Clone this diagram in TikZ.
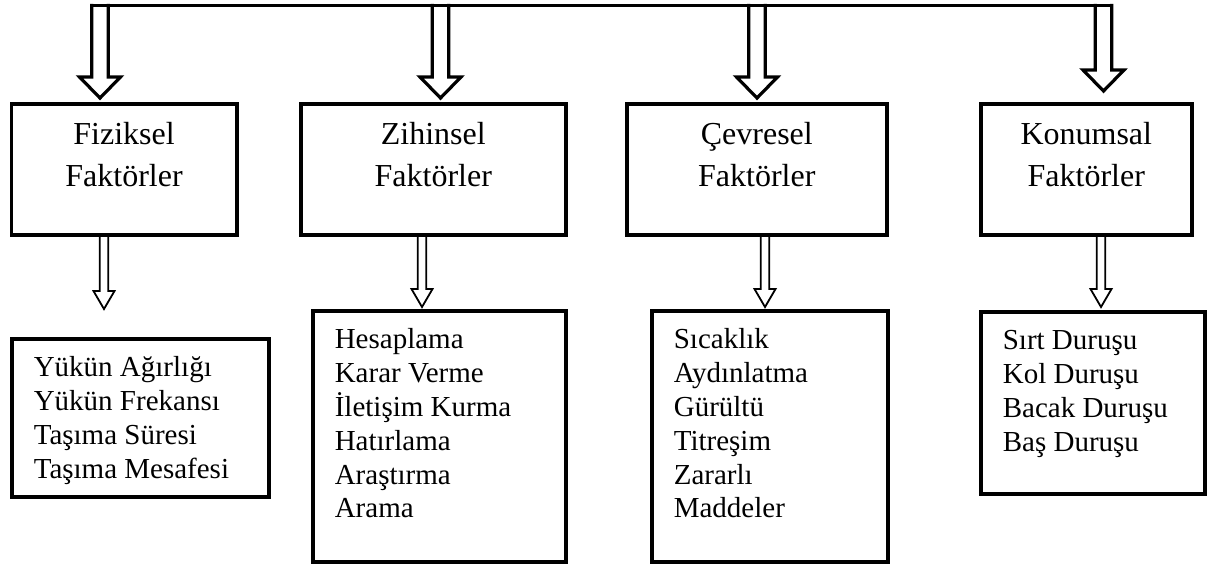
\documentclass[tikz,border=0pt]{standalone}
\usepackage{fontspec}
\setmainfont{Liberation Serif}
\usepackage{tikz}
\usetikzlibrary{calc}

\tikzset{
	faktor/.style={draw,line width=1.8pt,inner sep=0pt,anchor=north west,font=\fontsize{16}{21}\selectfont,text height=20.5pt,text depth=45pt},
	liste/.style={draw,line width=1.8pt,inner xsep=11pt,inner ysep=0pt,anchor=north west,font=\fontsize{14.5}{16.9}\selectfont,text height=19pt},
	kalin/.style={line width=1.6pt,line join=miter,line cap=rect},
	ince/.style={line width=0.9pt,line join=miter}
}
\newcommand{\baslik}[2]{\parbox[t]{#1}{\centering #2}}
\newcommand{\maddeler}[2]{\parbox[t]{#1}{#2}}
% style, from, tip, half shaft, half head, head length
\newcommand{\okbos}[6]{\draw[#1] ($(#2)+(-#4,0)$) -- ($(#3)+(-#4,-#6)$) -- ($(#3)+(-#5,-#6)$) -- (#3) -- ($(#3)+(#5,-#6)$) -- ($(#3)+(#4,-#6)$) -- ($(#2)+(#4,0)$);}

\begin{document}
\begin{tikzpicture}[x=0.5pt,y=-0.5pt]
	\useasboundingbox (0,0) rectangle (1213,563);
	
	\node[faktor,minimum width=112.75pt] (fiz) at (9.5,102) {\baslik{112.75pt}{Fiziksel\\Faktörler}};
	\node[faktor,minimum width=132.5pt] (zih) at (299,102) {\baslik{132.5pt}{Zihinsel\\Faktörler}};
	\node[faktor,minimum width=130pt] (cev) at (625,102) {\baslik{130pt}{Çevresel\\Faktörler}};
	\node[faktor,minimum width=105.5pt] (kon) at (979,102) {\baslik{105.5pt}{Konumsal\\Faktörler}};
	
	\node[liste,minimum width=128.5pt,text depth=60pt] (fizl) at (10,337) {\maddeler{106.5pt}{Yükün Ağırlığı\\Yükün Frekansı\\Taşıma Süresi\\Taşıma Mesafesi}};
	\node[liste,minimum width=126.5pt,text depth=106.5pt] (zihl) at (311,309) {\maddeler{104.5pt}{Hesaplama\\Karar Verme\\İletişim Kurma\\Hatırlama\\Araştırma\\Arama}};
	\node[liste,minimum width=118pt,text depth=106.5pt] (cevl) at (650,309) {\maddeler{96pt}{Sıcaklık\\Aydınlatma\\Gürültü\\Titreşim\\Zararlı\\Maddeler}};
	\node[liste,minimum width=112pt,text depth=72pt] (konl) at (979,310) {\maddeler{90pt}{Sırt Duruşu\\Kol Duruşu\\Bacak Duruşu\\Baş Duruşu}};
	
	\foreach \n/\x/\g in {fiz/100/4,zih/440.5/4,cev/757/4,kon/1103.5/11}
	{
		\coordinate (b\n) at (\x,5.5);
		\coordinate (t\n) at ($(\n.north -| \x,0)+(0,-\g)$);
		\okbos{kalin}{b\n}{t\n}{8.25}{20.5}{21}
	}
	\draw[kalin] ($(bfiz)+(-8.25,0)$) -- ($(bkon)+(8.25,0)$);
	
	\foreach \n/\m/\x/\g in {fiz/fizl/104/28,zih/zihl/422/2,cev/cevl/765/2,kon/konl/1101/3}
	{
		\coordinate (s\n) at (\n.south -| \x,0);
		\coordinate (u\n) at ($(\m.north -| \x,0)+(0,-\g)$);
		\okbos{ince}{s\n}{u\n}{4.25}{10.5}{18}
	}
	
\end{tikzpicture}
\end{document}
